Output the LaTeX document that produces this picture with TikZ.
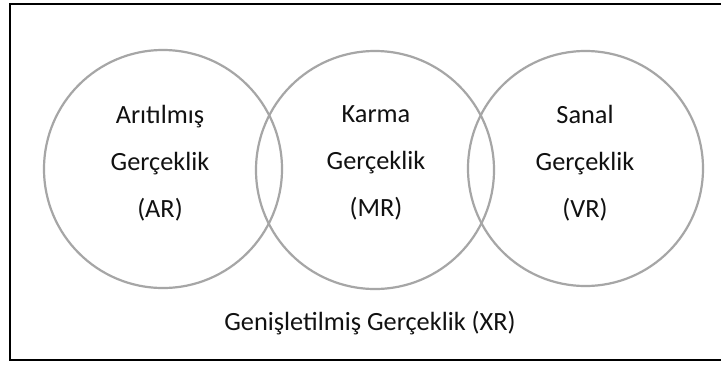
\documentclass[tikz,border=0pt]{standalone}
\usepackage{fontspec}
\setmainfont{Carlito}
\usepackage{xcolor}
\usepackage{tikz}
\usetikzlibrary{positioning}
\definecolor{RingGray}{HTML}{A6A6A6}
\definecolor{TextDark}{HTML}{111111}

\begin{document}
\begin{tikzpicture}[x=1pt,y=-1pt,
    every node/.style={font=\fontsize{26.3}{47}\selectfont, text=TextDark},
    ring/.style={circle, draw=RingGray, line width=2.2pt, minimum size=238pt, inner sep=0pt}]
      \clip (0,0) rectangle (721,365);
      \fill[white] (0,0) rectangle (721,365);
      \draw[line width=2.2pt] (10,4) rectangle (760,360);
      % the three circles
      \node[ring] (arRing) at (163,169) {};
      \node[ring] (mrRing) at (375,170) {};
      \node[ring, minimum size=235pt] (vrRing) at (585.5,168.5) {};
      % labels
      \node[align=center] (ar) at (160,163) {Arıtılmış\\Gerçeklik\\(AR)};
      \node[align=center] (mr) at (376,163) {Karma\\Gerçeklik\\(MR)};
      \node[align=center] (vr) at (585,163) {Sanal\\Gerçeklik\\(VR)};
      \node (xr) at (370,323) {Genişletilmiş Gerçeklik (XR)};
    \end{tikzpicture}
\end{document}
